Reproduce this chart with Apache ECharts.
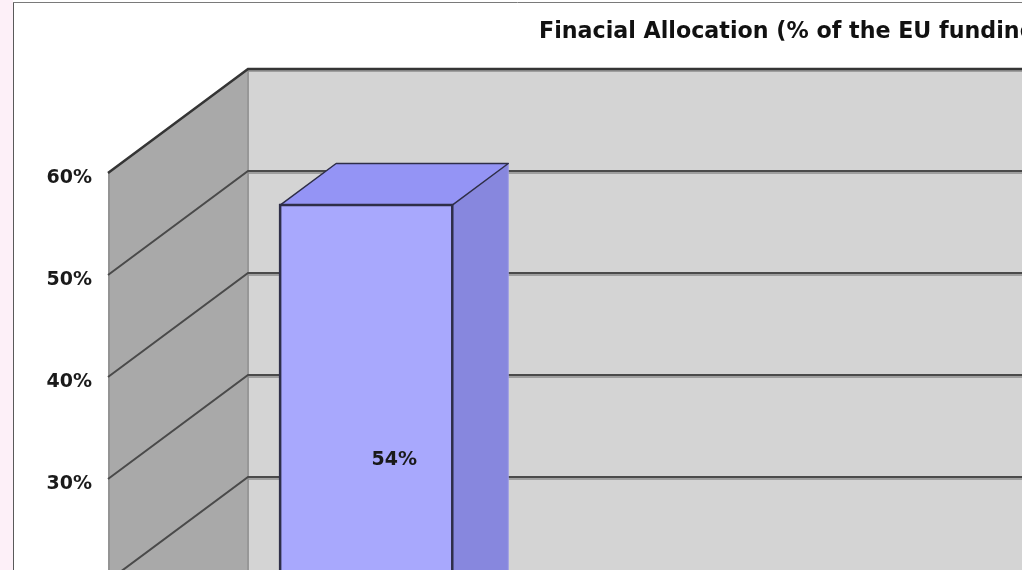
<!DOCTYPE html>
<html>
<head>
<meta charset="utf-8">
<script src="https://cdn.jsdelivr.net/npm/echarts@6/dist/echarts.min.js"></script>
<style>
  html, body { margin: 0; padding: 0; background: #ffffff; }
  #chart { position: absolute; left: 0; top: 0; width: 1022px; height: 570px; }
</style>
</head>
<body>
<div id="chart"></div>
<script>
// ---- data ----
const titleText = 'Finacial Allocation (% of the EU funding)';
const categories = ['EU funding'];
const allocation = [54];          // % of EU funding
const yMin = 0, yMax = 60, yStep = 10;
const gridValues = [0, 10, 20, 30, 40, 50, 60];

// ---- styling constants (3D look) ----
const DX = 140, DY = -104;        // depth offset from front plane to back wall
const T0 = 0.28, T1 = 0.68;       // bar depth range (fraction of wall depth)
const BAR_FRAC = 0.393;           // bar width as fraction of band
const FONT = 'DejaVu Sans';

const chart = echarts.init(document.getElementById('chart'), null, { renderer: 'canvas' });

function wallsRender(params, api) {
  const cs = params.coordSys;
  const L = cs.x;
  const top = api.coord([0, yMax])[1];
  const bot = api.coord([0, yMin])[1];
  const R = api.getWidth() + 10;
  return {
    type: 'group',
    children: [
      { type: 'rect', shape: { x: L + DX, y: top + DY, width: R - (L + DX), height: bot - top },
        style: { fill: '#d4d4d4' } },
      { type: 'polygon', shape: { points: [[L, top], [L + DX, top + DY], [L + DX, bot + DY], [L, bot]] },
        style: { fill: '#a9a9a9' } },
      { type: 'line', shape: { x1: L + DX, y1: top + DY, x2: L + DX, y2: bot + DY },
        style: { stroke: '#979797', lineWidth: 2 } },
      { type: 'line', shape: { x1: L + 1, y1: top, x2: L + 1, y2: bot },
        style: { stroke: '#949494', lineWidth: 2 } }
    ]
  };
}

function gridRender(params, api) {
  const cs = params.coordSys;
  const L = cs.x;
  const y = api.coord([0, api.value(0)])[1];
  const R = api.getWidth() + 10;
  const isTop = api.value(0) === yMax;
  return {
    type: 'group',
    children: [
      { type: 'polyline', shape: { points: [[L + DX, y + DY + 2], [R, y + DY + 2]] },
        style: { stroke: '#8c8c8c', lineWidth: 1.5, fill: null } },
      { type: 'polyline', shape: { points: [[L, y], [L + DX, y + DY], [R, y + DY]] },
        style: { stroke: isTop ? '#353535' : '#4a4a4a', lineWidth: isTop ? 2.5 : 2, fill: null } }
    ]
  };
}

function barRender(params, api) {
  const idx = api.value(0);
  const v = api.value(1);
  const topP = api.coord([idx, v]);
  const baseP = api.coord([idx, yMin]);
  const band = api.size([1, 0])[0];
  const w = band * BAR_FRAC;
  const x0 = topP[0] - w / 2, x1 = topP[0] + w / 2;
  const yt = topP[1], yb = baseP[1];
  const f = (x, y, t) => [x + t * DX, y + t * DY];
  const ftl = f(x0, yt, T0), ftr = f(x1, yt, T0), fbr = f(x1, yb, T0), fbl = f(x0, yb, T0);
  const btl = f(x0, yt, T1), btr = f(x1, yt, T1), bbr = f(x1, yb, T1);
  const mid = api.coord([idx, v / 2]);
  const tm = (T0 + T1) / 2;
  const lab = [mid[0] + tm * DX, mid[1] + tm * DY];
  return {
    type: 'group',
    children: [
      { type: 'polygon', shape: { points: [ftr, btr, bbr, fbr] },
        style: { fill: '#8787de', stroke: '#9d9de6', lineWidth: 1 } },
      { type: 'polygon', shape: { points: [ftl, ftr, btr, btl] },
        style: { fill: '#9494f5', stroke: '#2e2e48', lineWidth: 1.5, lineJoin: 'round' } },
      { type: 'polygon', shape: { points: [ftl, ftr, fbr, fbl] },
        style: { fill: '#a8a8fd', stroke: '#2e2e48', lineWidth: 2.5 } },
      { type: 'text', x: lab[0], y: lab[1],
        style: { text: v + '%', fill: '#1a1a1a', font: 'bold 19px "' + FONT + '"', align: 'center', verticalAlign: 'middle' } }
    ]
  };
}

const option = {
  backgroundColor: '#ffffff',
  animation: false,
  title: {
    text: titleText,
    left: 534, top: 16,
    textStyle: { fontFamily: FONT, fontWeight: 'bold', fontSize: 22.2, color: '#111111' }
  },
  grid: { left: 108, top: 173, width: 438, height: 612, containLabel: false, outerBoundsMode: 'none' },
  xAxis: {
    type: 'category', data: categories,
    axisLine: { show: false }, axisTick: { show: false }, axisLabel: { show: false }, splitLine: { show: false }
  },
  yAxis: {
    type: 'value', min: yMin, max: yMax, interval: yStep,
    axisLine: { show: false }, axisTick: { show: false }, splitLine: { show: false },
    axisLabel: {
      formatter: '{value}%', margin: 16, verticalAlign: 'top', lineHeight: 10,
      fontFamily: FONT, fontWeight: 'bold', fontSize: 19, color: '#1a1a1a'
    }
  },
  graphic: [
    { type: 'rect', left: 0, top: 0, shape: { width: 13, height: 570 }, style: { fill: '#fdf0f8' }, z: 100 },
    { type: 'line', shape: { x1: 13.5, y1: 2, x2: 13.5, y2: 570 }, style: { stroke: '#5a5a5a', lineWidth: 1 }, z: 100 },
    { type: 'line', shape: { x1: 13, y1: 2.5, x2: 1022, y2: 2.5 }, style: { stroke: '#7a7a7a', lineWidth: 1 }, z: 100 }
  ],
  series: [
    { type: 'custom', name: 'walls', renderItem: wallsRender, data: [[0]], clip: false, z: 1, silent: true },
    { type: 'custom', name: 'grid', renderItem: gridRender, data: gridValues.map(v => [v]), clip: false, z: 2, silent: true },
    { type: 'custom', name: 'allocation', renderItem: barRender,
      data: allocation.map((v, i) => [i, v]), encode: { x: 0, y: 1 }, clip: false, z: 3 }
  ]
};
chart.setOption(option);
</script>
</body>
</html>
